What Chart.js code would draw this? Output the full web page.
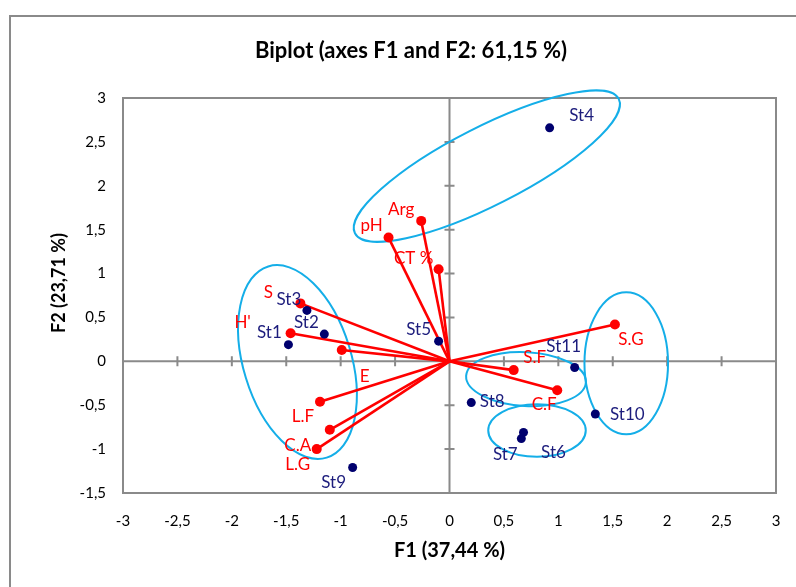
<!DOCTYPE html>
<html>
<head>
<meta charset="utf-8">
<script src="https://cdn.jsdelivr.net/npm/chart.js@4"></script>
<style>
  html, body { margin: 0; padding: 0; background: #fff; overflow: hidden; }
  #wrap { width: 796px; height: 587px; position: relative; }
</style>
</head>
<body>
<div id="wrap"><canvas id="biplot" width="796" height="587"></canvas></div>
<script>
// Observations (sampling stations), coordinates on F1 / F2
const stationNames = ['St1', 'St2', 'St3', 'St4', 'St5', 'St6', 'St7', 'St8', 'St9', 'St10', 'St11'];
const stationF1 = [-1.48, -1.15, -1.31, 0.92, -0.10, 0.68, 0.66, 0.20, -0.89, 1.34, 1.15];
const stationF2 = [0.19, 0.31, 0.58, 2.66, 0.23, -0.81, -0.88, -0.47, -1.21, -0.60, -0.07];

// Variables (vectors from the origin)
const variableNames = ['S', "H'", 'E', 'L.F', 'C.A', 'L.G', 'pH', 'Arg', 'CT %', 'S.F', 'C.F', 'S.G'];
const variableF1 = [-1.37, -1.46, -0.99, -1.19, -1.10, -1.22, -0.56, -0.26, -0.10, 0.59, 0.99, 1.52];
const variableF2 = [0.66, 0.32, 0.13, -0.46, -0.78, -1.00, 1.41, 1.60, 1.05, -0.10, -0.33, 0.42];

// Groups circled on the plot: centre and semi-axes in F1 / F2 units
const groupCentreF1 = [0.343, -1.397, 0.703, 0.804, 1.624];
const groupCentreF2 = [2.224, -0.008, -0.202, -0.788, -0.023];
const groupRadiusF1 = [1.36, 0.496, 0.551, 0.448, 0.384];
const groupRadiusF2 = [0.444, 1.139, 0.307, 0.30, 0.809];
const groupTiltDeg = [-27, -17, 3, 0, 0];

// Axis ticks
const axisMinF1 = -3, axisMaxF1 = 3;
const axisMinF2 = -1.5, axisMaxF2 = 3;
const tickStep = 0.5;

const chartTitle = 'Biplot (axes F1 and F2: 61,15 %)';
const titleF1 = 'F1 (37,44 %)';
const titleF2 = 'F2 (23,71 %)';

// ---- styling ----
const FONT = 'Lato, "Open Sans", sans-serif';
const RED = '#ff0000';
const NAVY = '#00006e';
const NAVY_TEXT = '#1c1c7c';
const CYAN = '#14aee8';
const GREY = '#8a8a8a';
const CLEAR = 'rgba(0,0,0,0)';

// label placement (pixel offsets from each mark)
const stationLabelOffset = {
  'St1': [-19, -12], 'St2': [-18, -12], 'St3': [-18, -11], 'St4': [32, -12],
  'St5': [-20, -12], 'St6': [30, 20], 'St7': [-16, 16], 'St8': [21, -1],
  'St9': [-19, 15], 'St10': [32, 1], 'St11': [-11, -21]
};
const variableLabelOffset = {
  'S': [-32, -11], "H'": [-48, -11], 'E': [23, 27], 'L.F': [-17, 15],
  'C.A': [-32, 16], 'L.G': [-19, 15], 'pH': [-17, -12], 'Arg': [-20, -11],
  'CT %': [-25, -11], 'S.F': [21, -13], 'C.F': [-13, 14], 'S.G': [16, 15]
};

const fmt = v => String(Math.round(v * 100) / 100).replace('.', ',');

// datasets
const datasets = [];
variableNames.forEach((name, i) => {
  datasets.push({
    label: name,
    data: [{ x: 0, y: 0 }, { x: variableF1[i], y: variableF2[i] }],
    showLine: true,
    borderColor: RED,
    borderWidth: 2.6,
    backgroundColor: RED,
    pointBackgroundColor: RED,
    pointBorderColor: RED,
    pointRadius: [0, 5],
    pointBorderWidth: 0,
    order: 2
  });
});
datasets.push({
  label: 'Stations',
  data: stationNames.map((n, i) => ({ x: stationF1[i], y: stationF2[i] })),
  showLine: false,
  backgroundColor: NAVY,
  pointBackgroundColor: NAVY,
  pointBorderColor: NAVY,
  pointRadius: 4.5,
  pointBorderWidth: 0,
  order: 1
});

// frame, zero axes, group ellipses and titles
const decorations = {
  id: 'decorations',
  beforeDraw(chart) {
    const ctx = chart.ctx;
    ctx.save();
    ctx.fillStyle = '#fff';
    ctx.fillRect(0, 0, chart.width, chart.height);
    ctx.strokeStyle = GREY;
    ctx.lineWidth = 2;
    ctx.strokeRect(10, 16, 900, 900);
    ctx.restore();
  },
  beforeDatasetsDraw(chart) {
    const ctx = chart.ctx;
    const xs = chart.scales.x, ys = chart.scales.y;
    const a = chart.chartArea;
    ctx.save();
    ctx.strokeStyle = GREY;
    ctx.lineWidth = 2;
    ctx.strokeRect(a.left, a.top, a.right - a.left, a.bottom - a.top);
    const x0 = xs.getPixelForValue(0), y0 = ys.getPixelForValue(0);
    ctx.beginPath();
    ctx.moveTo(a.left, y0); ctx.lineTo(a.right, y0);
    ctx.moveTo(x0, a.top); ctx.lineTo(x0, a.bottom);
    xs.ticks.forEach(t => {
      const px = xs.getPixelForValue(t.value);
      ctx.moveTo(px, y0 - 5); ctx.lineTo(px, y0 + 5);
    });
    ys.ticks.forEach(t => {
      const py = ys.getPixelForValue(t.value);
      ctx.moveTo(x0 - 5, py); ctx.lineTo(x0 + 5, py);
    });
    ctx.stroke();

    ctx.strokeStyle = CYAN;
    ctx.lineWidth = 2;
    groupCentreF1.forEach((c, i) => {
      const cx = xs.getPixelForValue(c);
      const cy = ys.getPixelForValue(groupCentreF2[i]);
      const rx = Math.abs(xs.getPixelForValue(c + groupRadiusF1[i]) - cx);
      const ry = Math.abs(ys.getPixelForValue(groupCentreF2[i] + groupRadiusF2[i]) - cy);
      ctx.beginPath();
      ctx.ellipse(cx, cy, rx, ry, groupTiltDeg[i] * Math.PI / 180, 0, 2 * Math.PI);
      ctx.stroke();
    });
    ctx.restore();
  },
  afterDraw(chart) {
    const ctx = chart.ctx;
    const xs = chart.scales.x, ys = chart.scales.y;
    const a = chart.chartArea;
    ctx.save();
    ctx.textAlign = 'center';
    ctx.textBaseline = 'middle';
    ctx.font = '17px ' + FONT;
    ctx.fillStyle = RED;
    variableNames.forEach((n, i) => {
      const o = variableLabelOffset[n];
      ctx.fillText(n, xs.getPixelForValue(variableF1[i]) + o[0], ys.getPixelForValue(variableF2[i]) + o[1]);
    });
    ctx.fillStyle = NAVY_TEXT;
    stationNames.forEach((n, i) => {
      const o = stationLabelOffset[n];
      ctx.fillText(n, xs.getPixelForValue(stationF1[i]) + o[0], ys.getPixelForValue(stationF2[i]) + o[1]);
    });

    ctx.fillStyle = '#000';
    ctx.font = 'bold 22px ' + FONT;
    ctx.fillText(chartTitle, 411, 51);
    ctx.font = 'bold 20px ' + FONT;
    ctx.fillText(titleF1, (a.left + a.right) / 2, 551);
    ctx.font = 'bold 18px ' + FONT;
    ctx.translate(59, 283);
    ctx.rotate(-Math.PI / 2);
    ctx.fillText(titleF2, 0, 0);
    ctx.restore();
  }
};

new Chart(document.getElementById('biplot'), {
  type: 'scatter',
  data: { datasets },
  options: {
    responsive: false,
    animation: false,
    devicePixelRatio: 1,
    layout: { padding: { top: 98, right: 20, left: 0, bottom: 0 } },
    plugins: { legend: { display: false }, tooltip: { enabled: false }, title: { display: false } },
    scales: {
      x: {
        type: 'linear', min: axisMinF1, max: axisMaxF1,
        grid: { display: true, drawOnChartArea: false, drawTicks: true, tickLength: 19, color: CLEAR },
        border: { display: false },
        ticks: { stepSize: tickStep, callback: v => fmt(v), color: '#000', font: { family: FONT, size: 15 }, padding: 0, maxRotation: 0 },
        afterFit(s) { s.height = 94; }
      },
      y: {
        type: 'linear', min: axisMinF2, max: axisMaxF2,
        grid: { display: true, drawOnChartArea: false, drawTicks: true, tickLength: 17, color: CLEAR },
        border: { display: false },
        ticks: { stepSize: tickStep, callback: v => fmt(v), color: '#000', font: { family: FONT, size: 15 }, padding: 0 },
        afterFit(s) { s.width = 123; }
      }
    }
  },
  plugins: [decorations]
});
</script>
</body>
</html>
